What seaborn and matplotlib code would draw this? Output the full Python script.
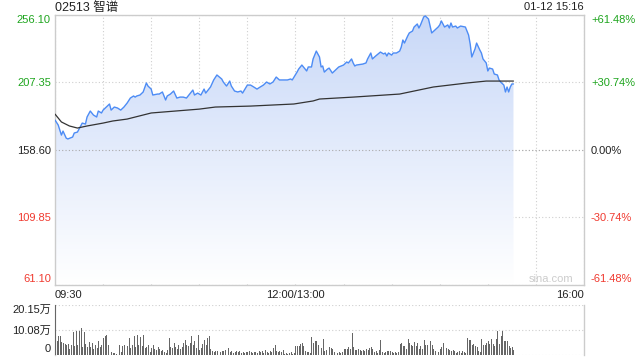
import numpy as np
import pandas as pd
import matplotlib
matplotlib.use("Agg")
import matplotlib.pyplot as plt
import seaborn as sns
from matplotlib.colors import LinearSegmentedColormap

# ---------------- data ----------------
title = "02513 智谱"
stamp = "01-12 15:16"
prev_close = 158.60
price_ticks = [61.10, 109.85, 158.60, 207.35, 256.10]
price_tick_labels = ["61.10", "109.85", "158.60", "207.35", "256.10"]
pct_labels = ["-61.48%", "-30.74%", "0.00%", "+30.74%", "+61.48%"]
session_minutes = 330                      # 09:30-12:00 + 13:00-16:00
grid_step = 30
time_label_minutes = [0, 150, 330]
time_labels = ["09:30", "12:00/13:00", "16:00"]
vol_ticks = [0, 100800, 201500]
vol_tick_labels = ["0", "10.08万", "20.15万"]

price_minutes = [0, 2, 4, 5, 7, 8, 11, 12, 14, 16, 17, 19, 20, 22, 24, 26, 27, 29, 30, 32,
                 34, 35, 37, 39, 41, 43, 45, 47, 49, 50, 51, 53, 55, 57, 58, 60, 61, 64, 65, 67,
                 69, 70, 72, 74, 76, 78, 80, 82, 84, 86, 87, 89, 91, 93, 94, 97, 99, 101, 104, 105,
                 107, 109, 110, 112, 114, 116, 117, 120, 122, 124, 126, 128, 130, 132, 134, 136, 138, 140, 142, 145,
                 147, 148, 151, 152, 154, 155, 157, 158, 160, 161, 163, 165, 166, 167, 168, 170, 171, 173, 175, 177,
                 180, 182, 183, 185, 186, 187, 188, 192, 194, 195, 197, 198, 200, 203, 205, 206, 207, 208, 210, 211,
                 213, 215, 216, 217, 218, 220, 221, 223, 224, 226, 227, 228, 230, 231, 233, 234, 235, 237, 239, 240,
                 241, 243, 245, 246, 247, 248, 250, 251, 253, 256, 258, 259, 260, 262, 263, 265, 266, 267, 269, 270,
                 271, 273, 274, 276, 277, 278, 280, 281, 282, 283, 284, 285, 286]
price_values = [180.1, 176.5, 169.2, 172.1, 167.0, 166.4, 167.8, 170.7, 171.4, 175.8, 177.9, 177.2, 182.3, 186.6, 183.7, 182.3, 186.6, 185.2, 187.3, 189.5,
                191.7, 187.3, 189.5, 188.8, 187.3, 189.5, 192.4, 196.0, 197.5, 196.7, 197.5, 198.2, 200.4, 206.9, 204.7, 202.5, 198.2, 198.9, 198.9, 200.4,
                194.6, 197.5, 198.9, 201.1, 196.0, 196.7, 196.7, 196.0, 198.9, 201.8, 198.2, 199.6, 198.2, 202.5, 199.6, 204.0, 209.1, 212.7, 209.8, 207.6,
                204.7, 208.3, 204.7, 201.1, 200.4, 201.1, 199.6, 205.4, 205.4, 204.0, 202.5, 204.0, 205.4, 207.6, 206.2, 207.6, 211.2, 209.1, 209.1, 209.1,
                209.8, 209.1, 214.8, 217.0, 219.9, 218.5, 215.6, 218.5, 218.5, 224.3, 230.0, 225.7, 218.5, 219.2, 214.8, 217.0, 217.7, 214.1, 216.3, 218.5,
                219.9, 222.1, 221.4, 224.3, 221.4, 219.2, 219.9, 220.6, 221.4, 224.3, 228.6, 224.3, 226.4, 229.3, 227.9, 228.6, 226.4, 228.6, 227.1, 228.6,
                228.6, 230.0, 232.9, 238.0, 235.8, 240.9, 243.1, 244.5, 247.4, 249.6, 246.7, 248.9, 254.7, 255.4, 253.2, 248.1, 243.1, 245.2, 247.4, 248.9,
                251.8, 247.4, 248.9, 246.7, 250.3, 247.4, 248.1, 246.7, 248.1, 247.4, 241.6, 235.1, 225.7, 231.5, 235.8, 230.8, 228.6, 224.3, 221.4, 215.6,
                217.7, 217.0, 213.4, 212.7, 209.1, 207.6, 205.4, 200.4, 204.0, 200.4, 204.0, 206.2, 206.2]

avg_minutes = [0, 4, 9, 14, 20, 30, 36, 45, 60, 90, 100, 122, 149, 161, 165, 186, 215, 236, 257, 269, 286]
avg_values = [184.4, 178.7, 175.8, 174.3, 175.8, 177.9, 179.4, 180.8, 185.2, 188.0, 189.5, 190.2, 191.7, 193.9, 195.3,
              196.7, 198.9, 204.0, 206.9, 208.3, 208.3]

# volume per minute, in 万 shares
volume_wan = [
    20.15, 5.4, 7.4, 7.4, 5.1, 4.7, 4.3, 3.8, 4.3, 2.4,
    4.0, 9.0, 3.4, 9.4, 3.8, 9.7, 10.7, 3.0, 9.0, 4.3,
    3.0, 5.1, 3.0, 4.7, 2.4, 4.0, 2.7, 5.4, 3.0, 4.0, 6.7,
    7.4, 7.8, 4.0, 2.0, 1.1, 0.7, 0.7, 0.3, 0.7, 4.0,
    1.1, 3.4, 3.8, 7.4, 3.4, 6.7, 2.7, 3.8, 7.4, 3.0, 7.8,
    3.8, 7.0, 3.4, 8.1, 2.7, 3.0, 3.8, 1.1, 2.7, 3.8,
    2.4, 2.0, 3.0, 2.4, 1.3, 2.0, 1.1, 0.7, 2.0, 6.7, 3.0,
    2.7, 4.7, 3.0, 2.4, 4.0, 2.4, 3.0, 4.7, 6.0, 4.0,
    3.4, 4.7, 7.4, 3.8, 5.4, 2.7, 7.8, 2.0, 2.7, 4.3, 6.0,
    4.0, 6.7, 7.4, 2.4, 1.6, 1.1, 1.3, 1.6, 2.0, 1.1,
    1.3, 1.3, 2.0, 4.3, 2.7, 1.1, 1.3, 0.7, 1.1, 1.6, 0.9,
    1.3, 0.7, 1.1, 0.7, 0.9, 0.9, 1.3, 1.1, 0.7, 0.9, 1.1,
    0.7, 1.6, 1.1, 1.3, 0.7, 2.0, 1.1, 0.7, 1.6, 1.1, 2.7,
    4.0, 1.3, 1.1, 1.6,
    1.1, 2.0, 0.3, 0.7, 0.3, 0.7, 1.1, 0.3, 0.7, 3.4,
    3.4, 3.4, 4.3, 4.7, 3.4, 1.6, 1.1, 1.1, 0.7, 7.0,
    4.7, 5.4, 5.6, 3.8, 2.7, 2.7, 6.4, 1.6, 2.0, 3.6, 3.0,
    2.7, 2.4, 1.1, 1.1, 0.7, 1.1, 0.7, 1.1, 2.4, 2.4,
    2.4, 3.0, 2.4, 8.7, 3.0, 2.0, 2.0, 2.4, 2.0, 1.6, 2.0,
    1.6, 2.4, 2.0, 2.7, 3.0, 2.4, 1.1, 1.6, 0.7, 2.0,
    6.0, 1.1, 0.7, 1.1, 1.3, 1.6, 1.3, 1.1, 0.7, 1.1,
    0.7, 1.1, 4.3, 4.7, 3.4, 3.4, 2.4, 6.4, 4.7, 3.8, 3.4,
    5.1, 3.4, 4.7, 2.4, 3.4, 2.4, 6.0, 4.0, 3.8, 4.0,
    5.4, 3.8, 2.4, 1.6, 2.0, 1.1, 2.4, 3.0, 4.7, 2.0, 2.7,
    2.4, 2.0, 1.6, 2.0, 1.3, 0.7, 1.1, 1.3, 0.7, 1.6,
    1.1, 0.7, 6.7, 6.0, 6.0, 3.8, 4.3, 3.4, 3.0, 1.3, 1.1,
    6.4, 3.8, 3.8, 4.7, 5.4, 4.3, 6.4, 4.3, 3.4, 6.4,
    9.4, 4.3, 7.4, 9.7, 5.6, 5.4, 5.6, 3.4, 2.7, 3.0, 2.0,
]

# ---------------- style ----------------
sns.set_style("white")
plt.rcParams["font.family"] = ["Liberation Sans", "Noto Sans CJK SC", "DejaVu Sans"]

GREEN = "#1ea51e"
RED = "#f03a30"
DARK = "#222222"
GRID = "#cfcfcf"
SPINE = "#cccccc"
LINE = "#4d8cf5"

price_df = pd.DataFrame({"minute": price_minutes, "price": price_values})
avg_df = pd.DataFrame({"minute": avg_minutes, "avg": avg_values})
vol_df = pd.DataFrame({"minute": np.arange(len(volume_wan)),
                       "volume": np.array(volume_wan) * 10000})

fig = plt.figure(figsize=(6.4, 3.6), dpi=100)
W, H = 640, 360
ax = fig.add_axes([55 / W, 1 - 284.5 / H, 529 / W, 269.5 / H])
axv = fig.add_axes([55 / W, 1 - 354.5 / H, 529 / W, 49.5 / H])

ylo, yhi = price_ticks[0], price_ticks[-1]

# gradient area under price line
poly = ax.fill_between(price_df["minute"], price_df["price"], ylo, color="none", lw=0)
grad = np.linspace(1, 0, 256).reshape(-1, 1)
cmap = LinearSegmentedColormap.from_list("g", ["#ffffff", "#c8d8f8"])
im = ax.imshow(grad, extent=[price_df["minute"].min(), price_df["minute"].max(), ylo, yhi],
               aspect="auto", cmap=cmap, vmin=0, vmax=1, zorder=1, interpolation="bilinear")
im.set_clip_path(poly.get_paths()[0], transform=ax.transData)

sns.lineplot(data=price_df, x="minute", y="price", ax=ax, color=LINE, lw=1.0, zorder=3)
sns.lineplot(data=avg_df, x="minute", y="avg", ax=ax, color="#333333", lw=0.9, zorder=4)

ax.set_xlim(0, session_minutes)
ax.set_ylim(ylo, yhi)
ax.set_xlabel("")
ax.set_ylabel("")

xt = list(range(0, session_minutes + 1, grid_step))
ax.set_xticks(xt)
lab_map = dict(zip(time_label_minutes, time_labels))
ax.set_xticklabels([lab_map.get(m, "") for m in xt])
xl = ax.get_xticklabels()
xl[0].set_ha("left")
xl[-1].set_ha("right")
ax.set_yticks(price_ticks)
ax.set_yticklabels(price_tick_labels)
ycolors = [RED, RED, DARK, GREEN, GREEN]
yl = ax.get_yticklabels()
yl[0].set_va("bottom")
yl[-1].set_va("top")
ax.tick_params(axis="both", length=0, labelsize=8, colors=DARK)
ax.tick_params(axis="y", pad=3)
ax.tick_params(axis="x", pad=4)
for t, c in zip(ax.get_yticklabels(), ycolors):
    t.set_color(c)
ax.grid(True, linestyle=(0, (1, 2)), color=GRID, linewidth=0.8)
ax.axhline(prev_close, linestyle=(0, (1, 2)), color="#aaaaaa", linewidth=0.8, zorder=2)
for s in ax.spines.values():
    s.set_color(SPINE)
    s.set_linewidth(1.0)

# right percentage axis
axr = ax.twinx()
axr.set_ylim(ylo, yhi)
axr.set_yticks(price_ticks)
axr.set_yticklabels(pct_labels)
rl = axr.get_yticklabels()
for t, c in zip(rl, ycolors):
    t.set_color(c)
rl[0].set_va("bottom")
rl[-1].set_va("top")
axr.tick_params(axis="y", length=0, labelsize=8, pad=5)
for s in axr.spines.values():
    s.set_visible(False)

# volume panel
axv.bar(vol_df["minute"], vol_df["volume"], width=0.6, align="edge", color="#666666", lw=0, zorder=3)
axv.set_xlim(0, session_minutes)
axv.set_ylim(vol_ticks[0], vol_ticks[-1])
axv.set_xticks([])
axv.set_yticks(vol_ticks)
axv.set_yticklabels(vol_tick_labels)
vl = axv.get_yticklabels()
vl[0].set_va("bottom")
vl[-1].set_va("top")
axv.tick_params(axis="y", length=0, labelsize=8, pad=3, colors=DARK)
axv.grid(True, axis="y", linestyle=(0, (1, 2)), color=GRID, linewidth=0.8)
for k, s in axv.spines.items():
    s.set_color(SPINE)
    s.set_linewidth(1.0)
    s.set_zorder(1)
axv.spines["top"].set_visible(False)
axv.spines["bottom"].set_visible(False)

# texts
fig.text(55 / W, 1 - 7.5 / H, title, ha="left", va="center", fontsize=9, color=DARK)
fig.text(584 / W, 1 - 7.5 / H, stamp, ha="right", va="center", fontsize=8, color=DARK)
fig.text(573 / W, 1 - 278.5 / H, "sina.com", ha="right", va="center", fontsize=8, color="#cccccc")

fig.savefig("out.png", dpi=100)
